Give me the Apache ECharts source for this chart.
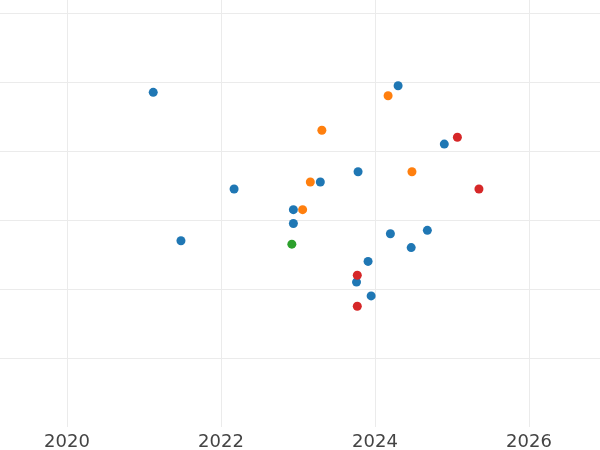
<!DOCTYPE html>
<html>
<head>
<meta charset="utf-8">
<script src="https://cdn.jsdelivr.net/npm/echarts@6/dist/echarts.min.js"></script>
<style>
html,body{margin:0;padding:0;background:#fff;}
#chart{width:600px;height:450px;}
</style>
</head>
<body>
<div id="chart"></div>
<script>
// x values in decimal years, y values on a unitless scale
const blueX = [2021.12, 2024.30, 2024.90, 2023.78, 2023.29, 2022.17, 2022.94, 2022.94, 2021.48, 2024.20, 2024.68, 2024.47, 2023.91, 2023.76, 2023.95];
const blueY = [4.85, 4.945, 4.10, 3.70, 3.55, 3.45, 3.15, 2.95, 2.70, 2.80, 2.85, 2.60, 2.40, 2.10, 1.90];
const orangeX = [2024.17, 2023.31, 2024.48, 2023.16, 2023.06];
const orangeY = [4.80, 4.30, 3.70, 3.55, 3.15];
const greenX = [2022.92];
const greenY = [2.65];
const redX = [2025.07, 2025.35, 2023.77, 2023.77];
const redY = [4.20, 3.45, 2.20, 1.75];
const xTicks = [2018, 2020, 2022, 2024, 2026, 2028];

function pairs(xs, ys){ return xs.map((x,i)=>[x, ys[i]]); }

const chart = echarts.init(document.getElementById('chart'), null, {renderer:'canvas'});
const mk = (name, xs, ys, color) => ({
  name, type:'scatter', data: pairs(xs, ys), symbolSize: 9,
  itemStyle:{color: color, opacity:1}, emphasis:{disabled:true}
});
chart.setOption({
  animation:false,
  backgroundColor:'#ffffff',
  grid:{left:-87, right:-83, top:-56, bottom:23, containLabel:false, outerBoundsMode:'none'},
  xAxis:{
    type:'value', min:xTicks[0], max:xTicks[xTicks.length-1], interval:2,
    axisLine:{show:false}, axisTick:{show:false},
    axisLabel:{color:'#444444', fontSize:18, fontFamily:'DejaVu Sans', margin:6,
      formatter: v => String(Math.round(v))},
    splitLine:{show:true, lineStyle:{color:'#ebebeb', width:1}}
  },
  yAxis:{
    type:'value', min:0, max:7, interval:1,
    axisLine:{show:false}, axisTick:{show:false}, axisLabel:{show:false},
    splitLine:{show:true, showMinLine:false, lineStyle:{color:'#ebebeb', width:1}}
  },
  series:[
    mk('blue', blueX, blueY, '#1f77b4'),
    mk('orange', orangeX, orangeY, '#ff7f0e'),
    mk('green', greenX, greenY, '#2ca02c'),
    mk('red', redX, redY, '#d62728')
  ]
});
</script>
</body>
</html>
